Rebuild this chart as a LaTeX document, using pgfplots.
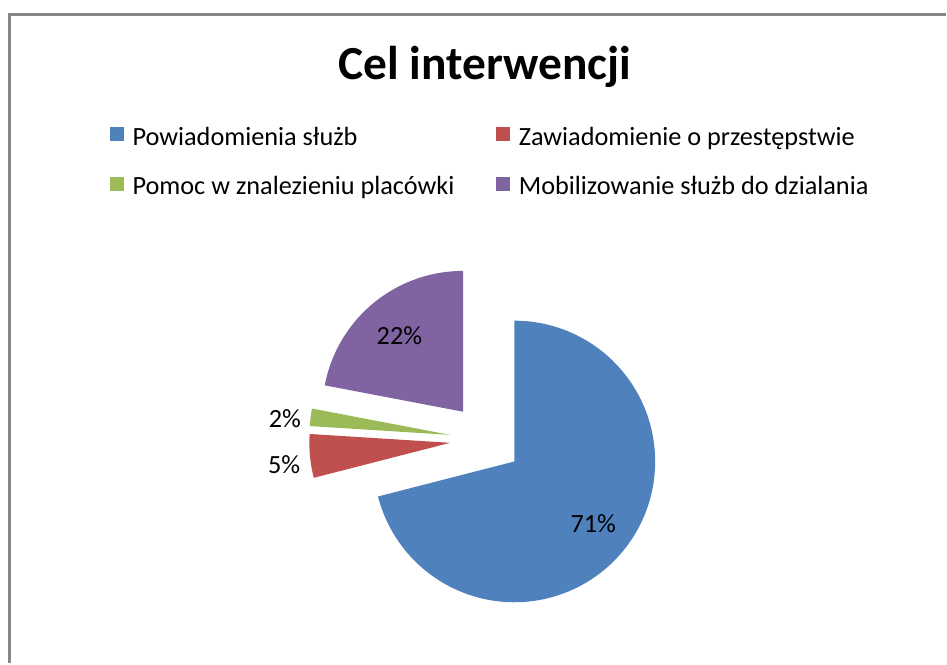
\documentclass[border=0pt]{standalone}
\usepackage{fontspec}
\setmainfont{Carlito}
\usepackage{pgfplots}
\usepackage{pgfplotstable}
\pgfplotsset{compat=1.18}
\definecolor{cBlue}{HTML}{4F81BD}
\definecolor{cRed}{HTML}{C0504D}
\definecolor{cGreen}{HTML}{9BBB59}
\definecolor{cPurple}{HTML}{8064A2}
\definecolor{cFrame}{HTML}{868686}

% share in percent, distance of the data label from the slice vertex (px), extra vertical shift
\pgfplotstableread{
value labdist dy
71 100 1
5 167 6
2 167 5
22 100 1
}\piedata

\newcommand\cx{486.6}
\newcommand\cy{440}
\newcommand\rad{141}
\newcommand\expl{36}
\newcommand\labfont{\fontsize{26.3bp}{30bp}\selectfont}
\newcommand\legfont{\fontsize{26.3bp}{30bp}\selectfont}
\gdef\cum{0}

\newcommand\slice[3]{% row, colour, legend text
  \pgfplotstablegetelem{#1}{value}\of\piedata \let\val\pgfplotsretval
  \pgfplotstablegetelem{#1}{labdist}\of\piedata \let\ld\pgfplotsretval
  \pgfplotstablegetelem{#1}{dy}\of\piedata \let\ldy\pgfplotsretval
  \pgfmathsetmacro\aS{\cum*3.6}%
  \pgfmathsetmacro\aE{(\cum+\val)*3.6}%
  \pgfmathsetmacro\aM{(\aS+\aE)/2}%
  \pgfmathsetmacro\vx{\cx+\expl*sin(\aM)}%
  \pgfmathsetmacro\vy{\cy-\expl*cos(\aM)}%
  \pgfmathsetmacro\lx{\vx+\ld*sin(\aM)}%
  \pgfmathsetmacro\ly{\vy-\ld*cos(\aM)+\ldy}%
  \pgfmathtruncatemacro\pct{\val}%
  \edef\doslice{\noexpand\addplot[fill=#2, draw=none, domain=\aS:\aE, samples=100, variable=\noexpand\t]
    ({\vx+\rad*sin(\noexpand\t)}, {\vy-\rad*cos(\noexpand\t)}) -- (axis cs:\vx,\vy) -- cycle;
    \noexpand\addlegendentry{#3}
    \noexpand\node[font=\noexpand\labfont, text=black] at (axis cs:\lx,\ly) {\pct\noexpand\%};}%
  \doslice
  \pgfmathsetmacro\newcum{\cum+\val}%
  \xdef\cum{\newcum}%
}

\begin{document}
\begin{tikzpicture}
\begin{axis}[
  scale only axis, width=947bp, height=664bp,
  xmin=0, xmax=947, ymin=0, ymax=664, y dir=reverse,
  hide axis, clip=false,
  legend columns=2,
  legend cell align=left,
  legend image code/.code={\fill[#1] (0bp,-4bp) rectangle (13.5bp,9.5bp);},
  legend style={at={(axis cs:110,127)}, anchor=north west, draw=none, fill=none,
    font=\legfont, row sep=30bp, inner sep=0pt,
    nodes={inner sep=0pt},
    /tikz/every odd column/.append style={column sep=9bp},
    /tikz/every even column/.append style={column sep=42bp}},
]
\path (axis cs:0,0) -- (axis cs:947,664);
\slice{0}{cBlue}{Powiadomienia służb}
\slice{1}{cRed}{Zawiadomienie o przestępstwie}
\slice{2}{cGreen}{Pomoc w znalezieniu placówki}
\slice{3}{cPurple}{Mobilizowanie służb do dzialania}
\node[font=\fontsize{47.5bp}{55bp}\selectfont\bfseries, anchor=base] at (axis cs:485.5,80) {Cel interwencji};
\draw[cFrame, line width=2.5bp] (axis cs:9.5,664) -- (axis cs:9.5,14.5) -- (axis cs:947,14.5);
\end{axis}
\end{tikzpicture}
\end{document}
